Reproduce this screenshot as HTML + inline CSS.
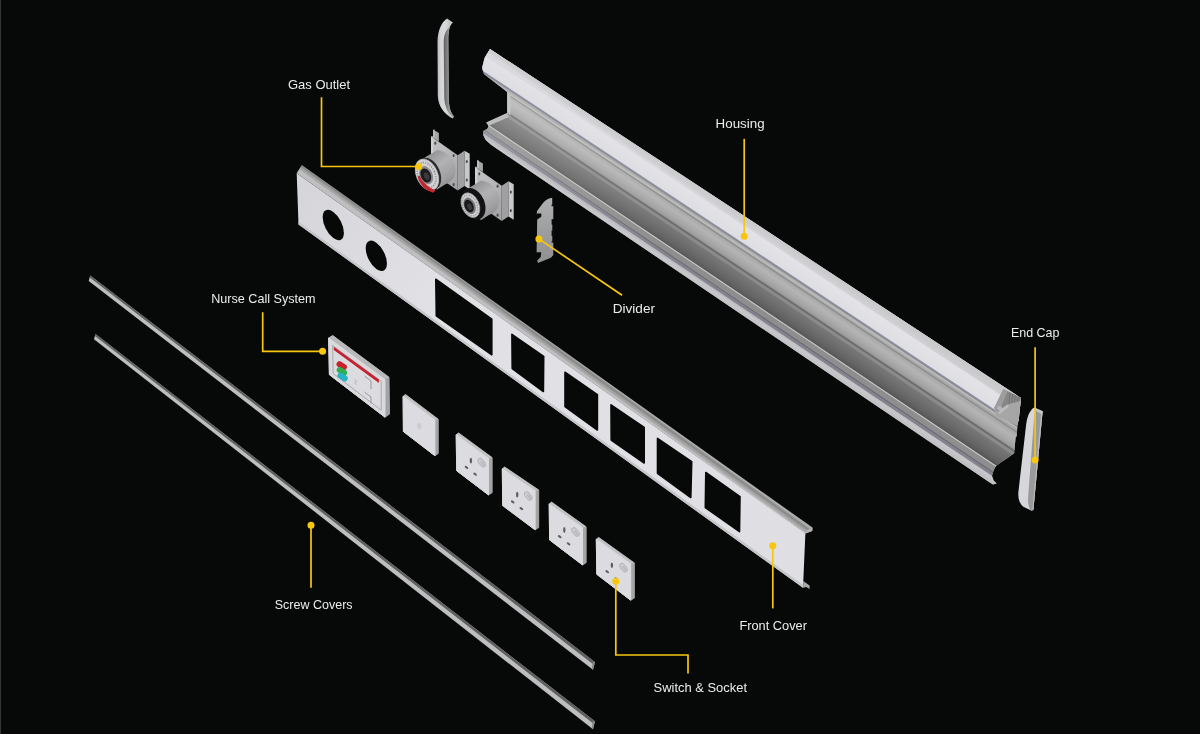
<!DOCTYPE html>
<html><head><meta charset="utf-8"><title>Bed Head Unit - Exploded View</title>
<style>
html,body{margin:0;padding:0;background:#070908;}
body{width:1200px;height:734px;overflow:hidden;font-family:"Liberation Sans",sans-serif;}
svg{display:block;will-change:transform;}
</style></head><body>
<svg width="1200" height="734" viewBox="0 0 1200 734">
<defs>
<clipPath id="hc"><polygon points="490.0,49.0 1021.0,398.0 1018.6,421.0 1017.6,422.5 1016.7,436.0 1015.6,437.5 1014.2,453.2 1006.9,458.5 1001.6,462.0 995.8,466.2 993.6,470.5 992.0,476.0 993.6,480.6 996.6,483.6 993.0,484.4 989.0,482.0 491.0,144.8 485.7,140.0 483.3,135.3 483.3,131.0 487.6,128.6 488.6,125.7 486.2,122.4 507.2,112.9 507.2,92.0 484.0,74.0 482.0,68.0 484.5,58.0"/></clipPath>
<linearGradient id="gTop" gradientUnits="userSpaceOnUse" x1="750.0" y1="219.8" x2="745.3" y2="226.8"><stop offset="0" stop-color="#c9c9cc"/><stop offset="0.7" stop-color="#d0d0d3"/><stop offset="1" stop-color="#dadade"/></linearGradient>
<linearGradient id="gBright" gradientUnits="userSpaceOnUse" x1="750.0" y1="219.8" x2="736.8" y2="239.6"><stop offset="0" stop-color="#dadade"/><stop offset="0.4" stop-color="#e2e2e7"/><stop offset="1" stop-color="#dddde2"/></linearGradient>
<linearGradient id="gBead" gradientUnits="userSpaceOnUse" x1="750.0" y1="250.1" x2="747.9" y2="253.3"><stop offset="0" stop-color="#a4a4a4"/><stop offset="0.5" stop-color="#bdbdbd"/><stop offset="1" stop-color="#a6a6a6"/></linearGradient>
<linearGradient id="gB1" gradientUnits="userSpaceOnUse" x1="750.0" y1="256.0" x2="741.8" y2="268.3"><stop offset="0" stop-color="#a8a8a8"/><stop offset="0.3" stop-color="#b4b4b4"/><stop offset="0.7" stop-color="#a7a7a7"/><stop offset="1" stop-color="#999999"/></linearGradient>
<linearGradient id="gB2" gradientUnits="userSpaceOnUse" x1="750.0" y1="279.4" x2="740.2" y2="294.1"><stop offset="0" stop-color="#787878"/><stop offset="0.35" stop-color="#6f6f6f"/><stop offset="0.75" stop-color="#636363"/><stop offset="1" stop-color="#565656"/></linearGradient>
<linearGradient id="gBot" gradientUnits="userSpaceOnUse" x1="750.0" y1="312.9" x2="746.4" y2="318.3"><stop offset="0" stop-color="#bcbcc0"/><stop offset="0.4" stop-color="#c8c8cc"/><stop offset="1" stop-color="#c0c0c4"/></linearGradient>
<linearGradient id="gLong" gradientUnits="userSpaceOnUse" x1="488" y1="120" x2="668" y2="240"><stop offset="0" stop-color="#ffffff" stop-opacity="0.17"/><stop offset="0.4" stop-color="#ffffff" stop-opacity="0.11"/><stop offset="1" stop-color="#ffffff" stop-opacity="0"/></linearGradient>
<linearGradient id="gCapT" gradientUnits="userSpaceOnUse" x1="437.5" y1="0" x2="449" y2="0"><stop offset="0" stop-color="#bdbdc0"/><stop offset="0.3" stop-color="#d6d6d9"/><stop offset="0.7" stop-color="#d9d9dc"/><stop offset="1" stop-color="#c6c6c9"/></linearGradient>
<linearGradient id="gCapD" gradientUnits="userSpaceOnUse" x1="443.6" y1="0" x2="449" y2="0"><stop offset="0" stop-color="#5c5c5f"/><stop offset="0.5" stop-color="#7a7a7d"/><stop offset="1" stop-color="#97979a"/></linearGradient>
<linearGradient id="gFace" gradientUnits="userSpaceOnUse" x1="300" y1="200" x2="805" y2="560"><stop offset="0" stop-color="#d6d6da"/><stop offset="0.25" stop-color="#e0e0e5"/><stop offset="0.7" stop-color="#e0e0e5"/><stop offset="1" stop-color="#dedee3"/></linearGradient>
<linearGradient id="gRail" gradientUnits="userSpaceOnUse" x1="500" y1="305.8" x2="496.2" y2="311.1"><stop offset="0" stop-color="#adadad"/><stop offset="0.12" stop-color="#999999"/><stop offset="0.34" stop-color="#858585"/><stop offset="0.62" stop-color="#a2a2a2"/><stop offset="0.85" stop-color="#a9a9a9"/><stop offset="1" stop-color="#bfbfc1"/></linearGradient>
<linearGradient id="gCyl" gradientUnits="userSpaceOnUse" x1="428" y1="152" x2="452" y2="186"><stop offset="0" stop-color="#8e8e90"/><stop offset="0.4" stop-color="#b2b2b4"/><stop offset="0.75" stop-color="#a0a0a2"/><stop offset="1" stop-color="#878789"/></linearGradient>
<linearGradient id="gPlate" gradientUnits="userSpaceOnUse" x1="431" y1="140" x2="458" y2="185"><stop offset="0" stop-color="#c2c2c4"/><stop offset="0.5" stop-color="#b4b4b6"/><stop offset="1" stop-color="#a4a4a6"/></linearGradient>
<linearGradient id="gDiv" x1="0" y1="0" x2="0" y2="1"><stop offset="0" stop-color="#b0b0b2"/><stop offset="0.5" stop-color="#9e9ea0"/><stop offset="1" stop-color="#909092"/></linearGradient>
</defs>
<rect x="0" y="0" width="1" height="734" fill="#353533"/>
<g clip-path="url(#hc)">
<polygon points="470.0,31.1 1030.0,398.5 1030.0,520.3 470.0,141.3" fill="#9a9a9a" />
<polygon points="470.0,33.0 1030.0,400.6 1030.0,433.8 470.0,63.0" fill="url(#gBright)" />
<polygon points="488.0,46.0 1030.0,402.8 1030.0,414.4 575.0,114.6 485.5,56.5 480.0,56.0" fill="url(#gTop)"/>
<polygon points="470.0,62.3 1030.0,433.0 1030.0,434.5 470.0,63.7" fill="#8a90ae" />
<polygon points="470.0,63.5 1030.0,434.3 1030.0,435.8 470.0,64.8" fill="#8a8a8a" />
<polygon points="470.0,64.6 1030.0,435.6 1030.0,440.4 470.0,69.0" fill="url(#gBead)" />
<polygon points="470.0,68.9 1030.0,440.3 1030.0,441.9 470.0,70.4" fill="#8b8b8b" />
<polygon points="470.0,70.2 1030.0,441.7 1030.0,460.4 470.0,87.1" fill="url(#gB1)" />
<polygon points="470.0,86.9 1030.0,460.2 1030.0,463.1 470.0,89.6" fill="#6e6e6e" />
<polygon points="470.0,89.4 1030.0,462.9 1030.0,466.5 470.0,92.6" fill="#8b8b8b" />
<polygon points="470.0,92.4 1030.0,466.3 1030.0,488.6 470.0,112.6" fill="url(#gB2)" />
<polygon points="470.0,112.4 1030.0,488.3 1030.0,490.1 470.0,114.0" fill="#c4c4c4" />
<polygon points="470.0,113.8 1030.0,489.9 1030.0,496.8 470.0,120.1" fill="#8e8e8e" />
<polygon points="470.0,119.9 1030.0,496.6 1030.0,498.1 470.0,121.2" fill="#686868" />
<polygon points="470.0,121.2 1030.0,498.1 1030.0,500.4 470.0,123.3" fill="#808098" />
<polygon points="470.0,123.1 1030.0,500.2 1030.0,501.8 470.0,124.6" fill="#858585" />
<polygon points="470.0,124.3 1030.0,501.5 1030.0,515.0 470.0,136.5" fill="url(#gBot)" />
<polygon points="470.0,64.6 1030.0,435.6 1030.0,501.3 470.0,124.1" fill="url(#gLong)" />
<polygon points="507.2,112.9 486.2,122.4 488.6,125.7 509.0,117.0" fill="#bdbdbd"/>
<polygon points="507.2,92.0 507.2,113.0 510.5,115.5 510.5,95.0" fill="#c6c6c6"/>
<polygon points="1003.4,389.3 1024.0,399.0 1022.0,428.0 996.0,415.5 994.3,408.0" fill="#a6a6a6"/>
<polygon points="1003.4,389.3 1021.5,397.8 1020.4,401.0 1006.9,404.7 998.2,411.8 994.3,408.0" fill="#868686"/>
<polygon points="1003.4,389.3 1007.6,391.2 1001.8,405.5 996.5,409.8 994.3,408.0" fill="#9d9d9d"/>
<line x1="1009.8" y1="392.6" x2="1009.0" y2="403.8" stroke="#747474" stroke-width="0.9"/>
<line x1="1012.6" y1="393.9" x2="1011.8000000000001" y2="403.0" stroke="#747474" stroke-width="0.9"/>
<line x1="1015.4" y1="395.2" x2="1014.6" y2="402.2" stroke="#747474" stroke-width="0.9"/>
<line x1="1018.2" y1="396.5" x2="1017.4000000000001" y2="401.4" stroke="#747474" stroke-width="0.9"/>
<ellipse cx="999.6" cy="408.2" rx="2.6" ry="2.2" fill="#b6b6b6"/>
<polygon points="998.2,411.8 1006.9,404.7 1009.0,406.5 999.5,414.6" fill="#bcbcbc"/>
</g>
<path d="M447,18.6 L452.9,22.5 C449.5,25.5 448.3,31 448.3,40 L448.7,98 C448.9,107 450.5,112.5 454,116.6 L452.5,118.4 C443.5,113.5 438.3,106 437.8,96 L437.5,42 C437.8,30 441.5,22.5 447,18.6 Z" fill="url(#gCapT)"/>
<path d="M449.8,26.5 C448.6,31 448.3,35 448.3,40 L448.7,98 C448.9,107 450.5,112.5 454,116.6 L453.2,117.6 C447.5,112.5 444.6,106 444.3,98 L443.7,42 C443.9,35 445.8,30 449.8,26.5 Z" fill="url(#gCapD)"/>
<path d="M1034.2,407.6 C1030,410 1027.4,416 1026.2,424 L1018.4,492 C1017.8,499 1019.6,504 1023.3,506.7 L1031.7,510.8 L1033.4,509.8 L1041.8,420 L1042.6,411.3 Z" fill="#d7d7db"/>
<path d="M1037.2,409 C1035.2,411.5 1034.4,415 1033.9,420 L1028.0,499 C1027.9,503 1028.6,506.5 1030.4,510.2 L1031.7,510.8 L1033.4,509.8 L1041.8,420 L1042.6,411.3 Z" fill="#9a9a9c"/>
<path d="M1041.2,411 L1042.6,411.3 L1041.8,420 L1033.4,509.8 L1032.4,510.4 L1040.4,421 Z" fill="#bcbcbe"/>
<path d="M1034.2,407.6 L1042.6,411.3 L1042.2,414.5 L1036.6,411.2 L1034.8,409.6 Z" fill="#c6c6c8"/>
<polygon points="296.7,173.3 805.4,533.0 803.0,587.8 298.5,224.5" fill="url(#gFace)"/>
<polygon points="298.4,221.6 803.0,584.8 803.0,587.8 298.5,224.5" fill="#c6c6ca"/>
<polygon points="803.3,581.0 809.6,585.5 809.6,589.0 806.2,587.0 803.0,587.8" fill="#a8a8aa"/>
<polygon points="301.8,165.1 812.5,527.6 812.2,531.0 805.4,533.6 296.7,173.3" fill="url(#gRail)"/>
<polygon points="805.4,533.4 812.2,531.0 812.6,528.2 807.0,530.0" fill="#b4b4b4"/>
<ellipse cx="0" cy="0" rx="10.6" ry="13.1" transform="matrix(1 0.72 0 1 333.3 225.0)" fill="#070908"/>
<ellipse cx="0" cy="0" rx="10.6" ry="13.1" transform="matrix(1 0.72 0 1 376.3 255.8)" fill="#070908"/>
<polygon points="435.8,279.2 491.8,319.2 491.8,354.8 436.3,315.8" fill="#070908" stroke="#070908" stroke-width="1.6" stroke-linejoin="round"/>
<polygon points="511.9,334.3 543.7,356.4 543.4,391.5 512.2,368.6" fill="#070908" stroke="#070908" stroke-width="1.6" stroke-linejoin="round"/>
<polygon points="565.0,372.2 597.4,394.6 597.4,430.0 565.0,406.5" fill="#070908" stroke="#070908" stroke-width="1.6" stroke-linejoin="round"/>
<polygon points="611.0,404.8 644.2,427.5 644.2,463.0 611.2,440.0" fill="#070908" stroke="#070908" stroke-width="1.6" stroke-linejoin="round"/>
<polygon points="657.5,438.3 691.7,461.7 690.8,497.5 657.5,473.3" fill="#070908" stroke="#070908" stroke-width="1.6" stroke-linejoin="round"/>
<polygon points="705.8,472.5 740.0,496.7 739.5,531.7 705.3,507.5" fill="#070908" stroke="#070908" stroke-width="1.6" stroke-linejoin="round"/>
<polygon points="90.2,275.5 594.9,661.9 593.0,669.7 88.7,281.1" fill="#bebec0"/>
<polygon points="90.2,275.5 594.9,661.9 594.2,664.9 89.7,277.6" fill="#5e5e5e"/>
<polygon points="594.9,661.9 593.0,669.7 591.7,668.7 592.7,662.1" fill="#8a8a8a"/>
<polygon points="95.5,334.0 594.9,721.3 593.0,729.3 94.0,339.2" fill="#bebec0"/>
<polygon points="95.5,334.0 594.9,721.3 594.2,724.3 95.0,336.0" fill="#5e5e5e"/>
<polygon points="594.9,721.3 593.0,729.3 591.7,728.3 592.7,721.5" fill="#8a8a8a"/>
<polygon points="403.1,396.3 405.5,394.5 438.2,419.2 438.2,453.5 434.9,455.7 403.4,431.5" fill="#a5a5a7" stroke="#a5a5a7" stroke-width="1" stroke-linejoin="round"/>
<polygon points="403.1,396.3 405.5,394.5 438.2,419.2 434.9,420.2" fill="#c2c2c4"/>
<polygon points="403.1,396.3 434.9,420.2 434.9,455.7 403.4,431.5" fill="#dcdce0" stroke="#dcdce0" stroke-width="1" stroke-linejoin="round"/>
<ellipse cx="419.1" cy="425.9" rx="2.0" ry="2.8" fill="#cbcbce"/>
<polygon points="456.2,434.7 458.6,432.9 492.1,457.6 492.1,492.7 488.5,494.9 456.7,470.7" fill="#a5a5a7" stroke="#a5a5a7" stroke-width="1" stroke-linejoin="round"/>
<polygon points="456.2,434.7 458.6,432.9 492.1,457.6 488.5,458.6" fill="#c2c2c4"/>
<polygon points="456.2,434.7 488.5,458.6 488.5,494.9 456.7,470.7" fill="#dcdce0" stroke="#dcdce0" stroke-width="1" stroke-linejoin="round"/>
<ellipse cx="470.9" cy="460.6" rx="1.2" ry="2.9" fill="#5e5e62"/>
<ellipse cx="0" cy="0" rx="2.1" ry="1.1" transform="translate(466.5 467.4) rotate(36)" fill="#5e5e62"/>
<ellipse cx="0" cy="0" rx="2.1" ry="1.1" transform="translate(475.1 474.2) rotate(36)" fill="#5e5e62"/>
<ellipse cx="0" cy="0" rx="2.7" ry="5.0" transform="translate(481.7 462.6) rotate(-36)" fill="#cdcdd0" stroke="#b0b0b4" stroke-width="0.9"/>
<ellipse cx="0" cy="0" rx="1.2" ry="3.2" transform="translate(482.6 463.5) rotate(-36)" fill="#bcbcc0"/>
<polygon points="502.3,468.8 504.7,467.0 538.7,490.0 538.7,527.6 535.1,529.8 502.7,505.6" fill="#a5a5a7" stroke="#a5a5a7" stroke-width="1" stroke-linejoin="round"/>
<polygon points="502.3,468.8 504.7,467.0 538.7,490.0 535.1,491.0" fill="#c2c2c4"/>
<polygon points="502.3,468.8 535.1,491.0 535.1,529.8 502.7,505.6" fill="#dcdce0" stroke="#dcdce0" stroke-width="1" stroke-linejoin="round"/>
<ellipse cx="517.2" cy="494.6" rx="1.2" ry="2.9" fill="#5e5e62"/>
<ellipse cx="0" cy="0" rx="2.1" ry="1.1" transform="translate(512.7 501.9) rotate(36)" fill="#5e5e62"/>
<ellipse cx="0" cy="0" rx="2.1" ry="1.1" transform="translate(521.4 508.6) rotate(36)" fill="#5e5e62"/>
<ellipse cx="0" cy="0" rx="2.7" ry="5.0" transform="translate(528.2 495.9) rotate(-36)" fill="#cdcdd0" stroke="#b0b0b4" stroke-width="0.9"/>
<ellipse cx="0" cy="0" rx="1.2" ry="3.2" transform="translate(529.1 496.8) rotate(-36)" fill="#bcbcc0"/>
<polygon points="549.2,503.9 551.6,502.1 586.1,526.8 586.1,562.7 582.5,564.9 549.6,539.9" fill="#a5a5a7" stroke="#a5a5a7" stroke-width="1" stroke-linejoin="round"/>
<polygon points="549.2,503.9 551.6,502.1 586.1,526.8 582.5,527.8" fill="#c2c2c4"/>
<polygon points="549.2,503.9 582.5,527.8 582.5,564.9 549.6,539.9" fill="#dcdce0" stroke="#dcdce0" stroke-width="1" stroke-linejoin="round"/>
<ellipse cx="564.3" cy="530.0" rx="1.2" ry="2.9" fill="#5e5e62"/>
<ellipse cx="0" cy="0" rx="2.1" ry="1.1" transform="translate(559.7 536.7) rotate(36)" fill="#5e5e62"/>
<ellipse cx="0" cy="0" rx="2.1" ry="1.1" transform="translate(568.6 543.8) rotate(36)" fill="#5e5e62"/>
<ellipse cx="0" cy="0" rx="2.7" ry="5.0" transform="translate(575.5 532.0) rotate(-36)" fill="#cdcdd0" stroke="#b0b0b4" stroke-width="0.9"/>
<ellipse cx="0" cy="0" rx="1.2" ry="3.2" transform="translate(576.4 532.9) rotate(-36)" fill="#bcbcc0"/>
<polygon points="596.3,539.2 598.7,537.4 634.3,562.9 634.3,598.0 630.7,600.2 596.8,574.3" fill="#a5a5a7" stroke="#a5a5a7" stroke-width="1" stroke-linejoin="round"/>
<polygon points="596.3,539.2 598.7,537.4 634.3,562.9 630.7,563.9" fill="#c2c2c4"/>
<polygon points="596.3,539.2 630.7,563.9 630.7,600.2 596.8,574.3" fill="#dcdce0" stroke="#dcdce0" stroke-width="1" stroke-linejoin="round"/>
<ellipse cx="611.9" cy="565.3" rx="1.2" ry="2.9" fill="#5e5e62"/>
<ellipse cx="0" cy="0" rx="2.1" ry="1.1" transform="translate(607.2 571.7) rotate(36)" fill="#5e5e62"/>
<ellipse cx="0" cy="0" rx="2.1" ry="1.1" transform="translate(616.4 578.9) rotate(36)" fill="#5e5e62"/>
<ellipse cx="0" cy="0" rx="2.7" ry="5.0" transform="translate(623.5 567.7) rotate(-36)" fill="#cdcdd0" stroke="#b0b0b4" stroke-width="0.9"/>
<ellipse cx="0" cy="0" rx="1.2" ry="3.2" transform="translate(624.4 568.6) rotate(-36)" fill="#bcbcc0"/>
<polygon points="328.6,338.0 332.7,335.5 389.0,377.2 389.5,414.0 385.0,417.2 329.4,374.7" fill="#a3a3a5" stroke="#a3a3a5" stroke-width="1" stroke-linejoin="round"/>
<polygon points="328.6,338.0 332.7,335.5 389.0,377.2 385.0,379.6" fill="#b9b9bb"/>
<polygon points="328.6,338.0 385.0,379.6 385.0,417.2 329.4,374.7" fill="#dadade" stroke="#dadade" stroke-width="1" stroke-linejoin="round"/>
<polygon points="332.6,345.5 381.2,381.2 381.2,410.2 333.2,373.6" fill="#dcdce0" stroke="#9d9da0" stroke-width="0.8"/>
<polygon points="333.8,346.8 378.9,379.5 378.9,382.9 333.8,350.0" fill="#c5202c"/>
<rect x="-5.6" y="-3.0" width="11.2" height="6.0" rx="3.0" transform="translate(341.7 365.6) rotate(33)" fill="#c8232d"/>
<rect x="-5.6" y="-3.0" width="11.2" height="6.0" rx="3.0" transform="translate(341.9 371.4) rotate(33)" fill="#2fae52"/>
<rect x="-5.6" y="-3.0" width="11.2" height="6.0" rx="3.0" transform="translate(342.6 377.0) rotate(33)" fill="#27b3c4"/>
<path d="M364.5,376 L371,381 L371,389 M364.5,392 L371,397 L371,403.5" fill="none" stroke="#8f8f92" stroke-width="0.9"/>
<path d="M354.5,379.5 l2.2,1.8 l-2,1.6 l1.8,1.6" fill="none" stroke="#aaaaad" stroke-width="0.8"/>
<g transform="translate(0 0)">
<polygon points="433.3,129.7 438.9,132.9 438.9,141.5 433.3,138.0" fill="#a6a6a8"/>
<polygon points="433.3,129.7 434.4,129.2 434.4,137.5 433.3,138.0" fill="#d8d8da"/>
<polygon points="431.2,136.5 457.7,155.2 457.7,190.5 431.2,172.0" fill="url(#gPlate)"/>
<polygon points="431.2,136.5 432.6,136.0 432.6,172.8 431.2,172.0" fill="#dededf"/>
<polygon points="457.7,155.2 464.5,150.7 464.5,186.0 457.7,190.5" fill="#a0a0a2"/>
<polygon points="464.5,150.7 469.7,153.7 469.7,189.2 464.5,186.0" fill="#c8c8ca"/>
<ellipse cx="435.3" cy="143.2" rx="1.0" ry="1.6" fill="#4a4a4c"/>
<ellipse cx="453.6" cy="155.6" rx="1.0" ry="1.6" fill="#4a4a4c"/>
<ellipse cx="453.6" cy="184.6" rx="1.0" ry="1.6" fill="#4a4a4c"/>
<ellipse cx="466.8" cy="161.5" rx="1.0" ry="1.6" fill="#4a4a4c"/>
<ellipse cx="466.8" cy="180" rx="1.0" ry="1.6" fill="#4a4a4c"/>
<path d="M424.7,157.5 L437.5,150 C447,151.5 455.5,160 455.5,170 C455.5,178 450,183 445,184.5 L436.7,189.7 Z" fill="url(#gCyl)"/>
<ellipse cx="0" cy="0" rx="10.6" ry="16.6" transform="translate(429.4 173.6) rotate(-24)" fill="#2c2c2e"/>
<ellipse cx="0" cy="0" rx="10.6" ry="16.6" transform="translate(427 174.7) rotate(-24)" fill="#d2d2d4" stroke="#b8b8ba" stroke-width="0.6"/>
<ellipse cx="0" cy="0" rx="8.5" ry="13.1" transform="translate(426.6 174.9) rotate(-24)" fill="none" stroke="#8e8e91" stroke-width="1.5" stroke-dasharray="1.1 1.3"/>
<path d="M417.6,176.6 C419.2,184.5 425.5,191 433.2,192.8 L435.6,190.2 C429,188 423,182.4 420.6,175.4 Z" fill="#c1272d"/>
<ellipse cx="0" cy="0" rx="6.4" ry="9.6" transform="translate(426.2 175.2) rotate(-24)" fill="#8a8a8c"/>
<ellipse cx="0" cy="0" rx="5.0" ry="7.4" transform="translate(425.8 175.5) rotate(-24)" fill="#1b1b1d"/>
<ellipse cx="0" cy="0" rx="2.6" ry="4.0" transform="translate(426.6 176.2) rotate(-24)" fill="#3a3a3d"/>
</g>
<g transform="translate(44.0 30.6)">
<polygon points="433.3,129.7 438.9,132.9 438.9,141.5 433.3,138.0" fill="#a6a6a8"/>
<polygon points="433.3,129.7 434.4,129.2 434.4,137.5 433.3,138.0" fill="#d8d8da"/>
<polygon points="431.2,136.5 457.7,155.2 457.7,190.5 431.2,172.0" fill="url(#gPlate)"/>
<polygon points="431.2,136.5 432.6,136.0 432.6,172.8 431.2,172.0" fill="#dededf"/>
<polygon points="457.7,155.2 464.5,150.7 464.5,186.0 457.7,190.5" fill="#a0a0a2"/>
<polygon points="464.5,150.7 469.7,153.7 469.7,189.2 464.5,186.0" fill="#c8c8ca"/>
<ellipse cx="435.3" cy="143.2" rx="1.0" ry="1.6" fill="#4a4a4c"/>
<ellipse cx="453.6" cy="155.6" rx="1.0" ry="1.6" fill="#4a4a4c"/>
<ellipse cx="453.6" cy="184.6" rx="1.0" ry="1.6" fill="#4a4a4c"/>
<ellipse cx="466.8" cy="161.5" rx="1.0" ry="1.6" fill="#4a4a4c"/>
<ellipse cx="466.8" cy="180" rx="1.0" ry="1.6" fill="#4a4a4c"/>
<path d="M424.7,157.5 L437.5,150 C447,151.5 455.5,160 455.5,170 C455.5,178 450,183 445,184.5 L436.7,189.7 Z" fill="url(#gCyl)"/>
<ellipse cx="0" cy="0" rx="11.3" ry="16.6" transform="translate(429.2 173.3) rotate(-24)" fill="#121212"/>
<ellipse cx="0" cy="0" rx="8.6" ry="13.0" transform="translate(426.4 174.6) rotate(-24)" fill="#cfcfd1" stroke="#9a9a9c" stroke-width="0.7"/>
<ellipse cx="0" cy="0" rx="7.1" ry="10.8" transform="translate(426.0 174.9) rotate(-24)" fill="none" stroke="#8e8e91" stroke-width="1.2" stroke-dasharray="1.0 1.4"/>
<ellipse cx="0" cy="0" rx="5.6" ry="8.6" transform="translate(425.6 175.2) rotate(-24)" fill="#77777a"/>
<ellipse cx="0" cy="0" rx="4.3" ry="6.6" transform="translate(425.0 175.4) rotate(-24)" fill="#19191b"/>
<ellipse cx="0" cy="0" rx="2.3" ry="3.6" transform="translate(425.7 176.1) rotate(-24)" fill="#38383b"/>
</g>
<path d="M552.2,197.7 Q545.5,198.5 541.5,205 L537.2,210.7 L536.6,213.4 L541.3,213.4 L541.3,216.8 L537.2,219.5 L536.6,252.2 L541.3,252.2 L540.7,257 L537.2,260.4 L538,263 L550.9,257.7 L553.3,255 L553.3,242 L552.3,241.5 L552.3,236 L553.3,235.5 L553.3,231 L552.3,230.5 L552.3,220 L553.3,219.5 L553.3,206 L552.3,205.5 Z" fill="url(#gDiv)"/>
<rect x="551.6" y="204.6" width="2.2" height="1.6" fill="#070908"/>
<rect x="551.6" y="219.2" width="2.2" height="5.4" fill="#070908"/>
<rect x="551.6" y="230.4" width="2.2" height="5.6" fill="#070908"/>
<rect x="551.6" y="241.2" width="2.2" height="1.4" fill="#070908"/>
<path d="M321.5,97.3 V166.5 H418.7" fill="none" stroke="#f7c60f" stroke-width="1.7"/>
<circle cx="418.7" cy="166.5" r="3.5" fill="#f7c60f"/>
<path d="M744.2,138.9 V236.2" fill="none" stroke="#f7c60f" stroke-width="1.7"/>
<circle cx="744.2" cy="236.2" r="3.5" fill="#f7c60f"/>
<path d="M1035.1,347.2 V460" fill="none" stroke="#f7c60f" stroke-width="1.7"/>
<circle cx="1035.1" cy="460" r="3.5" fill="#f7c60f"/>
<path d="M538.9,238.9 L622.1,295.3" fill="none" stroke="#f7c60f" stroke-width="1.7"/>
<circle cx="538.9" cy="238.9" r="3.5" fill="#f7c60f"/>
<path d="M262.7,312.2 V351.3 H322.6" fill="none" stroke="#f7c60f" stroke-width="1.7"/>
<circle cx="322.6" cy="351.3" r="3.5" fill="#f7c60f"/>
<path d="M311,525.2 V587.7" fill="none" stroke="#f7c60f" stroke-width="1.7"/>
<circle cx="311" cy="525.2" r="3.5" fill="#f7c60f"/>
<path d="M772.8,545.8 V608.4" fill="none" stroke="#f7c60f" stroke-width="1.7"/>
<circle cx="772.8" cy="545.8" r="3.5" fill="#f7c60f"/>
<path d="M615.8,581.2 V655 H688 V673.6" fill="none" stroke="#f7c60f" stroke-width="1.7"/>
<circle cx="615.8" cy="581.2" r="3.5" fill="#f7c60f"/>
<g font-family="'Liberation Sans', sans-serif" font-size="13.4" fill="#ececec">
<text x="288" y="88.9" textLength="62" lengthAdjust="spacingAndGlyphs">Gas Outlet</text>
<text x="715.6" y="128.2" textLength="49" lengthAdjust="spacingAndGlyphs">Housing</text>
<text x="1010.9" y="336.8" textLength="48.5" lengthAdjust="spacingAndGlyphs">End Cap</text>
<text x="612.7" y="312.5" textLength="42.3" lengthAdjust="spacingAndGlyphs">Divider</text>
<text x="211.2" y="302.6" textLength="104.4" lengthAdjust="spacingAndGlyphs">Nurse Call System</text>
<text x="274.7" y="609" textLength="77.9" lengthAdjust="spacingAndGlyphs">Screw Covers</text>
<text x="739.4" y="629.6" textLength="67.6" lengthAdjust="spacingAndGlyphs">Front Cover</text>
<text x="653.6" y="692.4" textLength="93.4" lengthAdjust="spacingAndGlyphs">Switch &amp; Socket</text>
</g>
</svg>
</body></html>
